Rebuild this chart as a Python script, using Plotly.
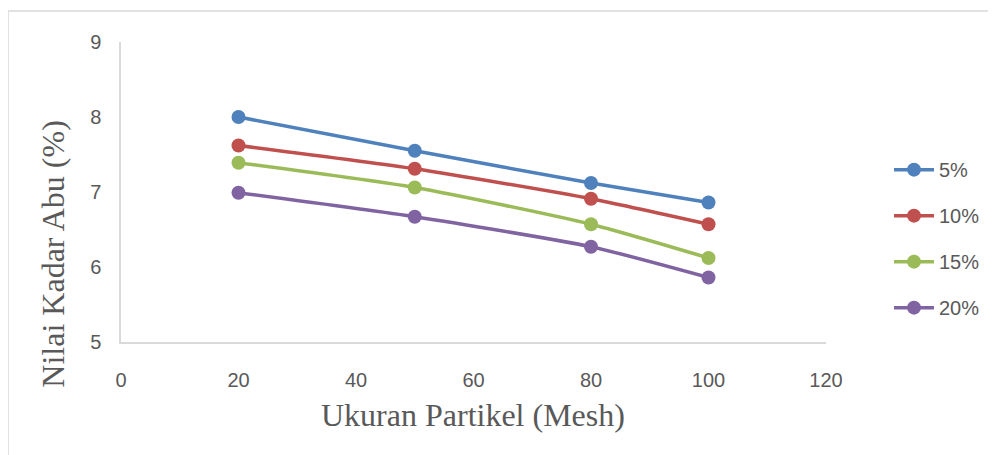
import plotly.graph_objects as go

mesh = [20, 50, 80, 100]
series_names = ["5%", "10%", "15%", "20%"]
abu_5 = [8.00, 7.55, 7.12, 6.86]
abu_10 = [7.62, 7.31, 6.91, 6.57]
abu_15 = [7.39, 7.06, 6.57, 6.12]
abu_20 = [6.99, 6.67, 6.27, 5.86]
colors = ["#4F81BD", "#C0504D", "#9BBB59", "#8064A2"]

x_ticks = [0, 20, 40, 60, 80, 100, 120]
y_ticks = [5, 6, 7, 8, 9]

fig = go.Figure()
for name, vals, col in zip(series_names, [abu_5, abu_10, abu_15, abu_20], colors):
    fig.add_trace(go.Scatter(
        x=mesh, y=vals, name=name, mode="lines+markers",
        line=dict(color=col, width=3.5, shape="spline", smoothing=0.6),
        marker=dict(color=col, size=14),
        legendgroup=name,
    ))

# page body has an 8px offset; target positions below are in screenshot pixels
OFF = 8
W, H = 996, 455
pl, pr, pt, pb = 121, 826, 42, 342.5  # plot area in screenshot pixels
L, T = pl - OFF, pt - OFF
pw, ph = pr - pl, pb - pt
R, B = W - L - pw, H - T - ph


def px(xs):
    return (xs - pl) / pw


def py(ys):
    return (pb - ys) / ph


fig.update_layout(
    width=W, height=H,
    margin=dict(l=L, r=R, t=T, b=B, autoexpand=False),
    paper_bgcolor="white", plot_bgcolor="white",
    font=dict(family="Liberation Sans, sans-serif", size=20, color="#595959"),
    showlegend=True,
    legend=dict(
        x=px(889), y=py(239), xanchor="left", yanchor="middle",
        font=dict(size=20, color="#595959"),
        tracegroupgap=17, itemwidth=40,
        bgcolor="rgba(0,0,0,0)",
    ),
    xaxis=dict(
        range=[0, 120], tickvals=x_ticks, showgrid=False, zeroline=False,
        showline=True, linecolor="#D9D9D9", linewidth=1.5, ticks="",
        ticklabelstandoff=19,
    ),
    yaxis=dict(
        range=[5, 9], tickvals=y_ticks, showgrid=False, zeroline=False,
        showline=True, linecolor="#D9D9D9", linewidth=1.5, ticks="",
        ticklabelstandoff=14,
    ),
    shapes=[dict(
        type="rect", xref="paper", yref="paper",
        x0=px(8), x1=px(W + 20),
        y0=py(H + 20), y1=py(11),
        line=dict(color="#D9D9D9", width=1.5), fillcolor="rgba(0,0,0,0)",
        layer="below",
    )],
    annotations=[
        dict(text="Ukuran Partikel (Mesh)", xref="paper", yref="paper",
             x=px(473), y=py(416), xanchor="center", yanchor="middle",
             showarrow=False, font=dict(family="Liberation Serif, Times New Roman, serif", size=32, color="#595959")),
        dict(text="Nilai Kadar Abu (%)", xref="paper", yref="paper",
             x=px(53), y=py(255), xanchor="center", yanchor="middle",
             textangle=-90,
             showarrow=False, font=dict(family="Liberation Serif, Times New Roman, serif", size=32, color="#595959")),
    ],
)

fig.write_html("out.html")
